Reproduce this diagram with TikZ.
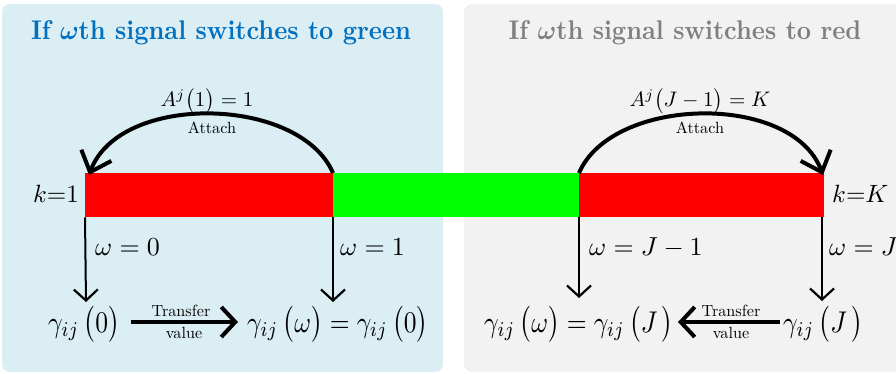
\documentclass[tikz,border=0pt]{standalone}
\usepackage{graphicx}
\usetikzlibrary{arrows.meta}
\definecolor{panelblue}{HTML}{DAEEF3}
\definecolor{panelgray}{HTML}{F2F2F2}
\definecolor{titleblue}{HTML}{0070C0}
\definecolor{titlegray}{HTML}{808080}
\definecolor{barred}{HTML}{FF0000}
\definecolor{bargreen}{HTML}{00FF00}
\newcommand\gij{\gamma_{ij}}
% math written at 10pt and scaled
\newcommand\Mk[1]{\scalebox{2.5}{$#1$}}
\newcommand\Mw[1]{\scalebox{2.6}{$#1$}}
\newcommand\Ma[1]{\scalebox{2.1}{$#1$}}
\newcommand\Mb[1]{\scalebox{2.55}[3.0]{$#1$}}
\newcommand\Ttl[1]{\scalebox{2.48}[2.7]{\bfseries #1}}
\newcommand\Sm[1]{\scalebox{1.62}{#1}}
\tikzset{
  panel/.style={rounded corners=8pt, draw=none},
  ttl/.style={font=\normalsize, inner sep=0pt, anchor=base},
  lbl/.style={font=\normalsize, inner sep=0pt},
  smalltxt/.style={font=\normalsize, inner sep=0pt, anchor=base},
  barbox/.style={minimum height=44pt, inner sep=0pt, anchor=north west, draw=none},
  varr/.style={line width=2pt, -{Straight Barb[length=11pt,width=24pt,line width=2.2pt]}},
  arcarr/.style={line width=4pt, -{Straight Barb[length=18pt,width=32pt,line width=4pt]}},
  harr/.style={line width=4pt, -{Straight Barb[length=14pt,width=30pt,line width=4pt]}},
}
\begin{document}
\begin{tikzpicture}[x=1pt,y=-1pt]
\useasboundingbox (0,0) rectangle (896,374);
% panels
\fill[panel, panelblue] (2,4) rectangle (443,372);
\fill[panel, panelgray] (464,4) rectangle (910,372);
% titles
\node[ttl, text=titleblue] (t1) at (221,40) {\Ttl{If {\boldmath$\omega$}th signal switches to green}};
\node[ttl, text=titlegray] (t2) at (685,40) {\Ttl{If {\boldmath$\omega$}th signal switches to red}};
% bar
\node[barbox, fill=barred, minimum width=248pt] (r1) at (85,173) {};
\node[barbox, fill=bargreen, minimum width=246pt] (g) at (333,173) {};
\node[barbox, fill=barred, minimum width=245pt] (r2) at (579,173) {};
% k labels
\node[lbl, anchor=base east] (k1) at (79,203) {\Mk{k{=}1}};
\node[lbl, anchor=base west] (kK) at (832,203) {\Mk{k{=}K}};
% arcs
\coordinate (a1) at (89,175);
\coordinate (a2) at (823,175);
\draw[arcarr] (g.north west) .. controls (300,96) and (120,92) .. (a1);
\draw[arcarr] (r2.north west) .. controls (612,96) and (792,92) .. (a2);
\node[lbl, anchor=base] (A1) at (207,107) {\Ma{A^{j}\bigl(1\bigr)=1}};
\node[lbl, anchor=base] (A2) at (700,107) {\Ma{A^{j}\bigl(J-1\bigr)=K}};
\node[smalltxt] (at1) at (212,134) {\Sm{Attach}};
\node[smalltxt] (at2) at (700,134) {\Sm{Attach}};
% omega labels
\node[lbl, anchor=base west] (w0) at (95,255) {\Mw{\omega=0}};
\node[lbl, anchor=base west] (w1) at (340,255) {\Mw{\omega=1}};
\node[lbl, anchor=base west] (wJ1) at (589,255) {\Mw{\omega=J-1}};
\node[lbl, anchor=base west] (wJ) at (829,255) {\Mw{\omega=J}};
% vertical arrows
\coordinate (v1) at (86,302);
\coordinate (v2) at (333,302);
\coordinate (v3) at (579,298);
\coordinate (v4) at (822,301);
\coordinate (r2se) at (822,217);
\draw[varr] (r1.south west) -- (v1);
\draw[varr] (g.south west) -- (v2);
\draw[varr] (r2.south west) -- (v3);
\draw[varr] (r2se) -- (v4);
% bottom formulas
\node[lbl, anchor=base west] (b1) at (48,332) {\Mb{\gij\,\bigl(0\bigr)}};
\node[lbl, anchor=base west] (b2) at (247,332) {\Mb{\gij\,\bigl(\omega\bigr)=\gij\,\bigl(0\bigr)}};
\node[lbl, anchor=base west] (b3) at (484,332) {\Mb{\gij\,\bigl(\omega\bigr)=\gij\,\bigl(J\,\bigr)}};
\node[lbl, anchor=base west] (b4) at (783,332) {\Mb{\gij\,\bigl(J\,\bigr)}};
% transfer arrows
\coordinate (h1s) at (131,322);
\coordinate (h1e) at (238,322);
\coordinate (h2s) at (780,322);
\coordinate (h2e) at (678,322);
\draw[harr] (h1s) -- (h1e);
\draw[harr] (h2s) -- (h2e);
\node[smalltxt] (tr1) at (181,316) {\Sm{Transfer}};
\node[smalltxt] (va1) at (184,338) {\Sm{value}};
\node[smalltxt] (tr2) at (731,316) {\Sm{Transfer}};
\node[smalltxt] (va2) at (731,338) {\Sm{value}};
\end{tikzpicture}
\end{document}
